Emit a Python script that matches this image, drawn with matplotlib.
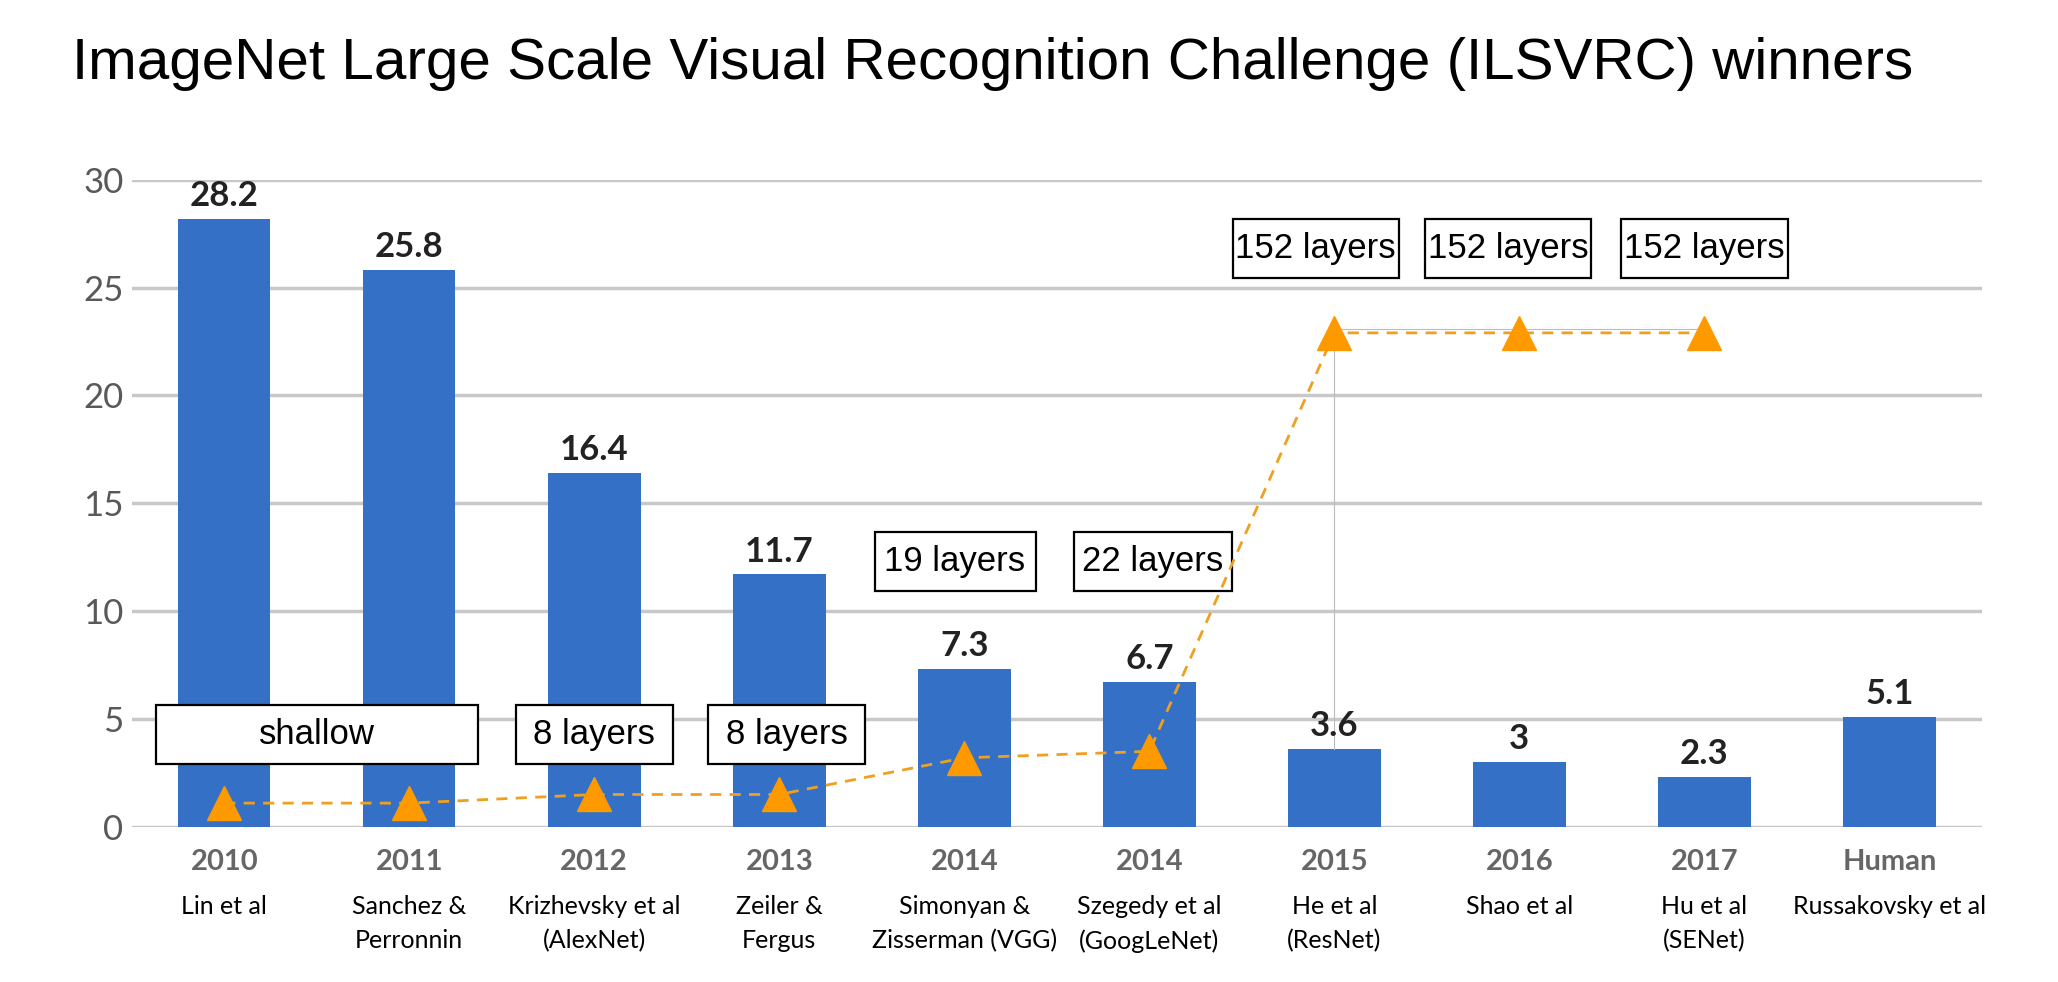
import matplotlib.pyplot as plt
from matplotlib.patches import Rectangle
from matplotlib.transforms import blended_transform_factory

# top-5 error (%) of the ILSVRC winners
years = ['2010', '2011', '2012', '2013', '2014', '2014', '2015', '2016', '2017', 'Human']
authors = ['Lin et al', 'Sanchez &\nPerronnin', 'Krizhevsky et al\n(AlexNet)', 'Zeiler &\nFergus',
           'Simonyan &\nZisserman (VGG)', 'Szegedy et al\n(GoogLeNet)', 'He et al\n(ResNet)',
           'Shao et al', 'Hu et al\n(SENet)', 'Russakovsky et al']
errors = [28.2, 25.8, 16.4, 11.7, 7.3, 6.7, 3.6, 3.0, 2.3, 5.1]
error_labels = ['28.2', '25.8', '16.4', '11.7', '7.3', '6.7', '3.6', '3', '2.3', '5.1']

# depth markers (drawn on the same axis, no scale of their own)
depth_level = [1.1, 1.1, 1.5, 1.5, 3.2, 3.5, 22.9, 22.9, 22.9]

# depth boxes
box_text = ['shallow', '8 layers', '8 layers', '19 layers', '22 layers',
            '152 layers', '152 layers', '152 layers']
box_x = [0.5, 2.0, 3.04, 3.95, 5.02, 5.9, 6.94, 8.0]
box_y = [4.3, 4.3, 4.3, 12.3, 12.3, 26.8, 26.8, 26.8]
box_w = [1.74, 0.85, 0.85, 0.87, 0.85, 0.9, 0.9, 0.9]
box_h = 2.74

bar_color = '#3470C6'
orange = '#FF9900'
grey = '#595959'

fig = plt.figure(figsize=(20.58, 9.82), dpi=100)
ax = fig.add_axes([0.064, 0.158, 0.899, 0.659])

x = list(range(len(years)))
ax.bar(x, errors, width=0.5, color=bar_color, zorder=2)
for xi, v, lab in zip(x, errors, error_labels):
    ax.annotate(lab, (xi, v), xytext=(0, 5), textcoords='offset points',
                ha='center', va='bottom', fontsize=25, fontweight='bold',
                family='Lato', color='#222222', zorder=5)

# faint helper lines seen in the original around the ResNet step
ax.plot([x[6], x[6]], [errors[6], depth_level[6]], color='#BBBBBB', lw=0.8, zorder=3)
ax.plot([x[6], x[8]], [depth_level[6] + 0.2, depth_level[8] + 0.2], color='#BBBBBB', lw=0.8, zorder=3)

for bx, by, bw, t in zip(box_x, box_y, box_w, box_text):
    ax.add_patch(Rectangle((bx - bw / 2, by - box_h / 2), bw, box_h, facecolor='white',
                           edgecolor='black', lw=1.6, zorder=4, clip_on=False))
    ax.text(bx, by, t, ha='center', va='center', fontsize=25, family='Liberation Sans',
            zorder=5)

ax.plot(x[:len(depth_level)], depth_level, color='#F0A020', lw=2, ls=(0, (4, 3)), zorder=6)
ax.plot(x[:len(depth_level)], depth_level, ls='none', marker='^', markersize=24,
        color=orange, zorder=7)

ax.set_xlim(-0.5, len(years) - 0.5)
ax.set_ylim(0, 30)
ax.set_yticks([0, 5, 10, 15, 20, 25, 30])
ax.yaxis.grid(True, color='#C8C8C8', lw=2.5, zorder=0)
ax.set_axisbelow(True)
for s in ax.spines.values():
    s.set_visible(False)
ax.tick_params(axis='both', length=0)
ax.tick_params(axis='y', pad=6)
ax.set_yticklabels([str(t) for t in [0, 5, 10, 15, 20, 25, 30]], fontsize=25,
                   family='Lato', color=grey)
ax.set_xticks(x)
ax.set_xticklabels(years, fontsize=21, fontweight='bold', family='Lato', color='#666666')
ax.tick_params(axis='x', pad=16)

trans = blended_transform_factory(ax.transData, ax.transAxes)
for xi, a in zip(x, authors):
    ax.text(xi, -0.105, a, transform=trans, ha='center', va='top', fontsize=18,
            family='Lato', linespacing=1.6)

fig.text(0.035, 0.935, 'ImageNet Large Scale Visual Recognition Challenge (ILSVRC) winners',
         fontsize=42, family='Liberation Sans', va='center', ha='left')

fig.savefig('out.png', dpi=100)
